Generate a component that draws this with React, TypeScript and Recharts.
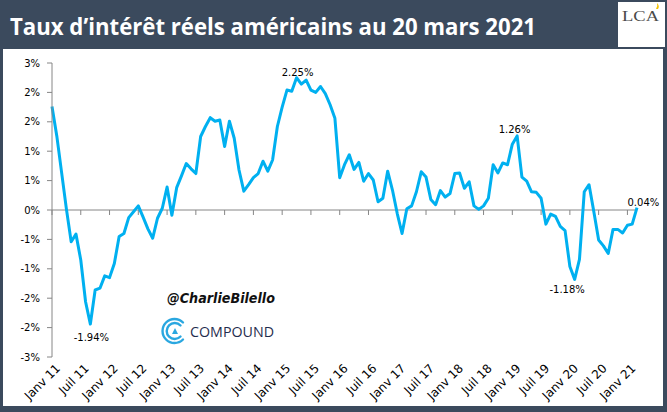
import React from 'react';
import { LineChart, Line, XAxis, YAxis, ReferenceLine } from 'recharts';

// Taux réels US, un point par mois, janv 2011 -> mars 2021 (en %)
const realRates = [
  1.76, 1.26, 0.64, 0.02, -0.54, -0.41, -0.85, -1.56, -1.94, -1.36, -1.33, -1.12,
  -1.15, -0.91, -0.45, -0.4, -0.13, -0.03, 0.07, -0.12, -0.32, -0.48, -0.14, 0.03,
  0.39, -0.09, 0.38, 0.58, 0.79, 0.7, 0.62, 1.25, 1.42, 1.57, 1.51, 1.53,
  1.08, 1.51, 1.22, 0.68, 0.32, 0.43, 0.55, 0.62, 0.83, 0.66, 0.85, 1.42,
  1.75, 2.04, 2.02, 2.25, 2.14, 2.21, 2.04, 2.0, 2.1, 1.98, 1.79, 1.56,
  0.55, 0.77, 0.94, 0.69, 0.81, 0.49, 0.62, 0.51, 0.14, 0.2, 0.66, 0.34,
  -0.06, -0.4, 0.02, 0.07, 0.31, 0.65, 0.56, 0.18, 0.09, 0.33, 0.22, 0.28,
  0.62, 0.63, 0.37, 0.48, 0.07, 0.01, 0.07, 0.2, 0.77, 0.63, 0.8, 0.77,
  1.12, 1.26, 0.56, 0.49, 0.31, 0.3, 0.2, -0.24, -0.07, -0.11, -0.28, -0.35,
  -0.96, -1.18, -0.84, 0.31, 0.43, -0.03, -0.51, -0.61, -0.74, -0.33, -0.33, -0.39,
  -0.26, -0.24, 0.04,
];

const tickMonths = [0, 6, 12, 18, 24, 30, 36, 42, 48, 54, 60, 66, 72, 78, 84, 90, 96, 102, 108, 114, 120];
const tickLabels = [
  'Janv 11', 'Juil 11', 'Janv 12', 'Juil 12', 'Janv 13', 'Juil 13', 'Janv 14', 'Juil 14',
  'Janv 15', 'Juil 15', 'Janv 16', 'Juil 16', 'Janv 17', 'Juil 17', 'Janv 18', 'Juil 18',
  'Janv 19', 'Juil 19', 'Janv 20', 'Juil 20', 'Janv 21',
];

const yTicks = [-2.5, -2, -1.5, -1, -0.5, 0, 0.5, 1, 1.5, 2, 2.5];
const yTickLabels = ['-3%', '-2%', '-2%', '-1%', '-1%', '0%', '1%', '1%', '2%', '2%', '3%'];

// points annotés (min / max / dernier)
const labelledMonths = [8, 51, 97, 109, 122];

const data = realRates.map((v, i) => ({ m: i, v }));

const FONT = 'DejaVu Sans';
const AXIS = '#868686';
const BLUE = '#00b0f0';
const SLATE = '#3b4a5d';

const labelPos: Record<number, { dx: number; dy: number; anchor: string }> = {
  8: { dx: 1, dy: 17, anchor: 'middle' },
  51: { dx: 1, dy: -2, anchor: 'middle' },
  97: { dx: -2.5, dy: -3, anchor: 'middle' },
  109: { dx: -7.5, dy: 14, anchor: 'middle' },
  122: { dx: -9.5, dy: -2, anchor: 'start' },
};

const PointLabel = (props: any) => {
  const { x, y, index, value } = props;
  if (!labelledMonths.includes(index)) return null;
  const p = labelPos[index];
  return (
    <text x={x + p.dx} y={y + p.dy} textAnchor={p.anchor} fontSize={10} fontFamily={FONT} fill="#000">
      {value.toFixed(2)}%
    </text>
  );
};

const MonthTick = (props: any) => {
  const { x, y, payload } = props;
  const label = tickLabels[tickMonths.indexOf(payload.value)];
  const ax = x + 9;
  const ay = y + 12;
  return (
    <text x={ax} y={ay} textAnchor="end" fontSize={12} fontFamily={FONT} fill="#000"
      transform={`rotate(-45, ${ax}, ${ay})`}>
      {label}
    </text>
  );
};

export default function App() {
  return (
    <div style={{ position: 'absolute', left: 0, top: 0, width: 667, height: 412, background: SLATE, overflow: 'hidden' }}>
      <div style={{ position: 'absolute', left: 3, top: 49, width: 660, height: 357, background: '#fff' }} />
      <svg width={667} height={49} style={{ position: 'absolute', left: 0, top: 0 }}>
        <text x={10} y={35} fill="#fff" fontFamily="Open Sans" fontWeight={700} fontSize={24}
          textLength={526} lengthAdjust="spacingAndGlyphs">
          Taux d’intérêt réels américains au 20 mars 2021
        </text>
        <rect x={618} y={2} width={47} height={45} fill="#fff" />
        <text x={622} y={21} fill="#4a4a4a" fontFamily="Liberation Serif" fontSize={15}
          textLength={37} lengthAdjust="spacingAndGlyphs">
          LCA
        </text>
        <path d="M656 9 q2 -3 1 -6 q3 3 1 6 z" fill="#f2c200" />
      </svg>

      <div style={{ position: 'absolute', left: 0, top: 0 }}>
        <LineChart width={667} height={412} data={data} margin={{ top: 63, right: 30, bottom: 10, left: 0 }}>
          <XAxis dataKey="m" type="number" domain={[0, 122]} ticks={tickMonths} interval={0}
            axisLine={false} tickLine={false} tickSize={0} tickMargin={0} height={45} tick={<MonthTick />} />
          <YAxis type="number" domain={[-2.5, 2.5]} ticks={yTicks} interval={0} width={52}
            axisLine={{ stroke: AXIS }} tickLine={{ stroke: AXIS }} tickSize={5} tickMargin={7}
            tick={{ fontSize: 10, fontFamily: FONT, fill: '#000' }}
            tickFormatter={(v: number) => yTickLabels[yTicks.indexOf(v)]} />
          <ReferenceLine y={0} stroke={AXIS} strokeWidth={1} />
          {tickMonths.map((m) => (
            <ReferenceLine key={m} segment={[{ x: m, y: 0 }, { x: m, y: -0.085 }]} stroke={AXIS} />
          ))}
          <Line dataKey="v" stroke={BLUE} strokeWidth={3} dot={false} strokeLinejoin="round"
            isAnimationActive={false} label={<PointLabel />} />
        </LineChart>
      </div>

      <svg width={667} height={412} style={{ position: 'absolute', left: 0, top: 0, pointerEvents: 'none' }}>
        <text x={167} y={303} fontFamily={FONT} fontStyle="italic" fontWeight={700} fontSize={14}
          fill="#111" textLength={108} lengthAdjust="spacingAndGlyphs">
          @CharlieBilello
        </text>
        <g fill="none" stroke="#2aa7e0" strokeWidth={2.4} strokeLinecap="round">
          <path d="M183 322.5 A12 12 0 1 0 183 339.5" />
          <path d="M180.5 325.5 A8 8 0 1 0 180.5 336.5" />
        </g>
        <path d="M175 328 L178 334 L172 334 Z" fill="#2aa7e0" />
        <text x={190} y={337} fontFamily="Open Sans" fontSize={15} fill="#1f2d4e"
          textLength={84} lengthAdjust="spacingAndGlyphs">
          COMPOUND
        </text>
      </svg>
    </div>
  );
}
